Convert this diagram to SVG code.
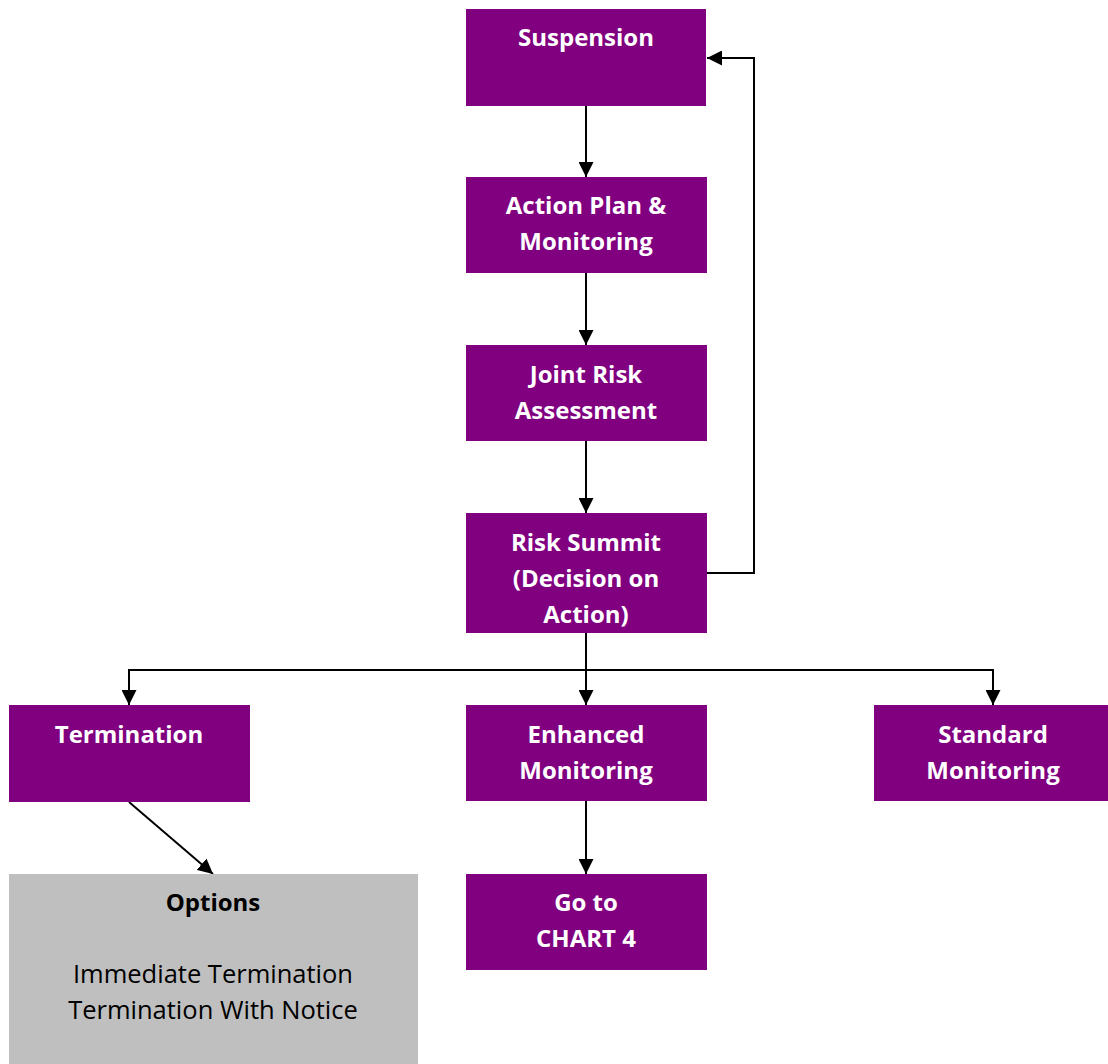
<svg xmlns="http://www.w3.org/2000/svg" width="1108" height="1064" viewBox="0 0 1108 1064">
<style>
.box{fill:#800080}
.opt{fill:#bfbfbf}
.t{font-family:"Open Sans","Liberation Sans",sans-serif;font-weight:bold;font-size:24px;fill:#fff;text-anchor:middle}
.tb{font-family:"Open Sans","Liberation Sans",sans-serif;font-weight:bold;font-size:24px;fill:#000;text-anchor:middle}
.tr{font-family:"Open Sans","Liberation Sans",sans-serif;font-size:25.5px;fill:#000;text-anchor:middle}
.c{fill:none;stroke:#000;stroke-width:2}
</style>
<defs>
<marker id="ah" viewBox="0 0 10 10" refX="10" refY="5" markerWidth="7.5" markerHeight="7.5" orient="auto" markerUnits="strokeWidth">
<path d="M0,0 L10,5 L0,10 Z" fill="#000"/>
</marker>
</defs>
<rect width="1108" height="1064" fill="#fff"/>
<g id="connectors">
<line class="c" x1="586" y1="106" x2="586" y2="177" marker-end="url(#ah)"/>
<line class="c" x1="586" y1="273" x2="586" y2="345" marker-end="url(#ah)"/>
<line class="c" x1="586" y1="441" x2="586" y2="513" marker-end="url(#ah)"/>
<polyline class="c" points="707,573 754,573 754,58 707,58" marker-end="url(#ah)"/>
<line class="c" x1="586" y1="633" x2="586" y2="705" marker-end="url(#ah)"/>
<polyline class="c" points="586,670 129,670 129,705" marker-end="url(#ah)"/>
<polyline class="c" points="586,670 993,670 993,705" marker-end="url(#ah)"/>
<line class="c" x1="586" y1="801" x2="586" y2="874" marker-end="url(#ah)"/>
<line class="c" x1="129" y1="802" x2="213" y2="874" marker-end="url(#ah)"/>
</g>
<g id="suspension"><rect class="box" x="466" y="9" width="240" height="97"/><text class="t" x="586" y="46">Suspension</text></g>
<g id="action-plan"><rect class="box" x="466" y="177" width="241" height="96"/><text class="t" x="586" y="214">Action Plan &amp;</text><text class="t" x="586" y="250">Monitoring</text></g>
<g id="joint-risk"><rect class="box" x="466" y="345" width="241" height="96"/><text class="t" x="586" y="383">Joint Risk</text><text class="t" x="586" y="419">Assessment</text></g>
<g id="risk-summit"><rect class="box" x="466" y="513" width="241" height="120"/><text class="t" x="586" y="551">Risk Summit</text><text class="t" x="586" y="587">(Decision on</text><text class="t" x="586" y="623">Action)</text></g>
<g id="termination"><rect class="box" x="9" y="705" width="241" height="97"/><text class="t" x="129" y="743">Termination</text></g>
<g id="enhanced"><rect class="box" x="466" y="705" width="241" height="96"/><text class="t" x="586" y="743">Enhanced</text><text class="t" x="586" y="779">Monitoring</text></g>
<g id="standard"><rect class="box" x="874" y="705" width="234" height="96"/><text class="t" x="993" y="743">Standard</text><text class="t" x="993" y="779">Monitoring</text></g>
<g id="chart4"><rect class="box" x="466" y="874" width="241" height="96"/><text class="t" x="586" y="911">Go to</text><text class="t" x="586" y="947">CHART 4</text></g>
<g id="options"><rect class="opt" x="9" y="874" width="409" height="190"/><text class="tb" x="213" y="911">Options</text><text class="tr" x="213" y="983">Immediate Termination</text><text class="tr" x="213" y="1019">Termination With Notice</text></g>
</svg>
